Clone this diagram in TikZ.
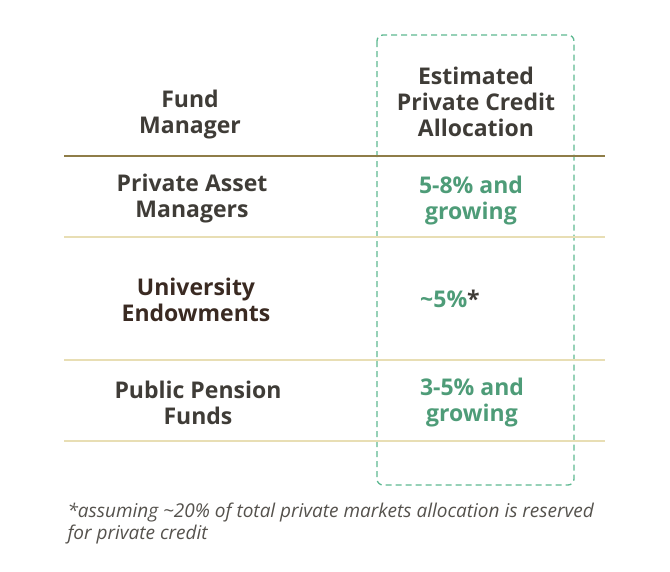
\documentclass[tikz,border=0pt]{standalone}
\usepackage{fontspec}
\setmainfont{Open Sans}
\definecolor{txt}{HTML}{3F3C37}
\definecolor{txtd}{HTML}{3A2A22}
\definecolor{grn}{HTML}{4E9C78}
\definecolor{dashgrn}{HTML}{5DB891}
\definecolor{olive}{HTML}{8F7D48}
\definecolor{tan}{HTML}{E8DEB4}
\definecolor{foot}{HTML}{55524D}
\begin{document}
\begin{tikzpicture}[x=1pt,y=-1pt,
  hd/.style={font=\fontsize{23}{26}\selectfont\bfseries,text=txt,align=center},
  vl/.style={font=\fontsize{23}{26}\selectfont\bfseries,text=grn,align=center}]
\useasboundingbox (0,0) rectangle (670,571);
\draw[draw=dashgrn,line width=1.3pt,dash pattern=on 6pt off 4pt,rounded corners=6pt] (377,35) rectangle (574,485);
\node[hd] (h1) at (190,115) {Fund\\Manager};
\node[hd] (h2) at (476,102) {Estimated\\Private Credit\\Allocation};
\draw[olive,line width=1.5pt] (64,156) coordinate (a1) -- (605,156) coordinate (a2);
\foreach \y in {237,360,441} \draw[tan,line width=1.2pt] (64,\y) -- (605,\y);
\node[hd] (r1) at (192,199) {Private Asset\\Managers};
\node[vl] (v1) at (471,201) {5-8\% and\\growing};
\node[hd,text=txtd] (r2) at (196,300) {University\\Endowments};
\node[vl] (v2) at (450,299) {\textcolor{grn}{\textasciitilde5\%}\textcolor{txt}{*}};
\node[hd] (r3) at (198,403) {Public Pension\\Funds};
\node[vl] (v3) at (472,403) {3-5\% and\\growing};
\node[font=\fontsize{19}{22}\selectfont\itshape,text=foot,align=left,anchor=north west] (f) at (64,499) {*assuming \textasciitilde20\% of total private markets allocation is reserved\\for private credit};
\end{tikzpicture}
\end{document}
